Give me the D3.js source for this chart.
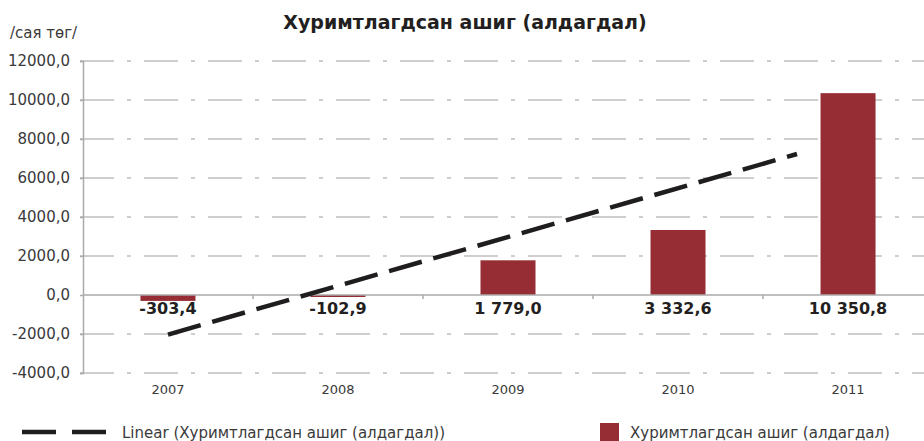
<script src="https://cdn.jsdelivr.net/npm/d3@7"></script>
<style>
    body {margin: 0; background: #fff;}
    svg {display: block; font-family: "DejaVu Sans", sans-serif;}
    .grid line {stroke: #bfbfbf; stroke-width: 1.5px; stroke-dasharray: 34,13,4,13;}
    .y-axis text, .x-label {fill: #3a3a3a;}
    .data-label {font-weight: bold; fill: #231f20;}
</style>
<div id="chart"></div>
<script>
    let years = ["2007", "2008", "2009", "2010", "2011"];
    let values = [-303.4, -102.9, 1779.0, 3332.6, 10350.8];
    let yTicks = [12000, 10000, 8000, 6000, 4000, 2000, 0, -2000, -4000];
    // dashed linear trend: [category position, value]
    let trendPos = [0, 3.7];
    let trendVal = [-2030, 7230];

    let title = "Хуримтлагдсан ашиг (алдагдал)";
    let unit = "/сая төг/";
    let legendTrend = "Linear (Хуримтлагдсан ашиг (алдагдал))";
    let legendBar = "Хуримтлагдсан ашиг (алдагдал)";

    let width = 924, height = 441;
    let plotLeft = 83, plotRight = 933, plotTop = 61, plotBottom = 373;

    let loc = d3.formatLocale({decimal: ",", thousands: " ", grouping: [3], currency: ["", ""], minus: "-"});
    let tickFmt = loc.format(".1f");
    let labelFmt = loc.format(",.1f");

    let x = d3.scaleBand().domain(years).range([plotLeft, plotRight])
        .paddingInner(0.6765).paddingOuter(0.338);
    let xPos = d3.scaleLinear().domain([-0.5, years.length - 0.5]).range([plotLeft, plotRight]);
    let y = d3.scaleLinear().domain([-4000, 12000]).range([plotBottom, plotTop]);

    let svg = d3.select("#chart").append("svg")
        .attr("width", width).attr("height", height);

    svg.append("text")
        .attr("x", 465).attr("y", 29)
        .attr("text-anchor", "middle")
        .style("font-size", "19px").style("font-weight", "bold").style("fill", "#231f20")
        .text(title);

    svg.append("text")
        .attr("x", 10).attr("y", 38)
        .style("font-size", "15px").style("fill", "#3a3a3a")
        .text(unit);

    // gridlines
    svg.append("g").attr("class", "grid")
        .selectAll("line")
        .data(yTicks.filter(d => d !== 0))
        .enter().append("line")
        .attr("x1", plotLeft - 3).attr("x2", width)
        .attr("y1", d => y(d)).attr("y2", d => y(d));

    // y axis
    let yAxis = d3.axisLeft(y).tickValues(yTicks).tickSize(3).tickPadding(10).tickFormat(tickFmt);
    let gy = svg.append("g").attr("class", "y-axis")
        .attr("transform", "translate(" + plotLeft + ",0)")
        .call(yAxis);
    gy.select(".domain").attr("stroke", "#aaa").attr("stroke-width", 1.5);
    gy.selectAll(".tick line").attr("stroke", "#aaa").attr("stroke-width", 1.5);
    gy.selectAll("text").style("font-size", "15px").style("font-family", "DejaVu Sans");

    // bars
    svg.selectAll(".bar")
        .data(years)
        .enter().append("rect")
        .attr("class", "bar")
        .attr("x", d => x(d))
        .attr("width", x.bandwidth())
        .attr("y", (d, i) => y(Math.max(0, values[i])))
        .attr("height", (d, i) => Math.abs(y(values[i]) - y(0)))
        .style("fill", "#972d34");

    // zero axis with category ticks
    svg.append("line")
        .attr("x1", plotLeft).attr("x2", width)
        .attr("y1", y(0)).attr("y2", y(0))
        .attr("stroke", "#aaa").attr("stroke-width", 1.5);
    svg.selectAll(".cat-tick")
        .data(d3.range(1, years.length))
        .enter().append("line")
        .attr("x1", d => xPos(d - 0.5)).attr("x2", d => xPos(d - 0.5))
        .attr("y1", y(0)).attr("y2", y(0) + 4)
        .attr("stroke", "#aaa").attr("stroke-width", 1.5);

    // trend line
    svg.append("path")
        .datum(trendPos.map((p, i) => [p, trendVal[i]]))
        .attr("d", d3.line().x(d => xPos(d[0])).y(d => y(d[1])))
        .attr("fill", "none")
        .attr("stroke", "#1f1d1e")
        .attr("stroke-width", 4.5)
        .attr("stroke-dasharray", "34,12");

    // data labels
    svg.selectAll(".data-label")
        .data(years)
        .enter().append("text")
        .attr("class", "data-label")
        .attr("x", d => x(d) + x.bandwidth() / 2)
        .attr("y", y(0) + 19)
        .attr("text-anchor", "middle")
        .style("font-size", "16px")
        .text((d, i) => labelFmt(values[i]));

    // year labels
    svg.selectAll(".x-label")
        .data(years)
        .enter().append("text")
        .attr("class", "x-label")
        .attr("x", d => x(d) + x.bandwidth() / 2)
        .attr("y", 394)
        .attr("text-anchor", "middle")
        .style("font-size", "13px")
        .text(d => d);

    // legend
    svg.append("line")
        .attr("x1", 22).attr("x2", 108)
        .attr("y1", 432).attr("y2", 432)
        .attr("stroke", "#1f1d1e").attr("stroke-width", 4.5)
        .attr("stroke-dasharray", "34,16");
    svg.append("text")
        .attr("x", 122).attr("y", 438)
        .style("font-size", "15px").style("fill", "#3a3a3a")
        .text(legendTrend);
    svg.append("rect")
        .attr("x", 600).attr("y", 423).attr("width", 19).attr("height", 19)
        .style("fill", "#972d34");
    svg.append("text")
        .attr("x", 630).attr("y", 438)
        .style("font-size", "15px").style("fill", "#3a3a3a")
        .text(legendBar);
</script>
